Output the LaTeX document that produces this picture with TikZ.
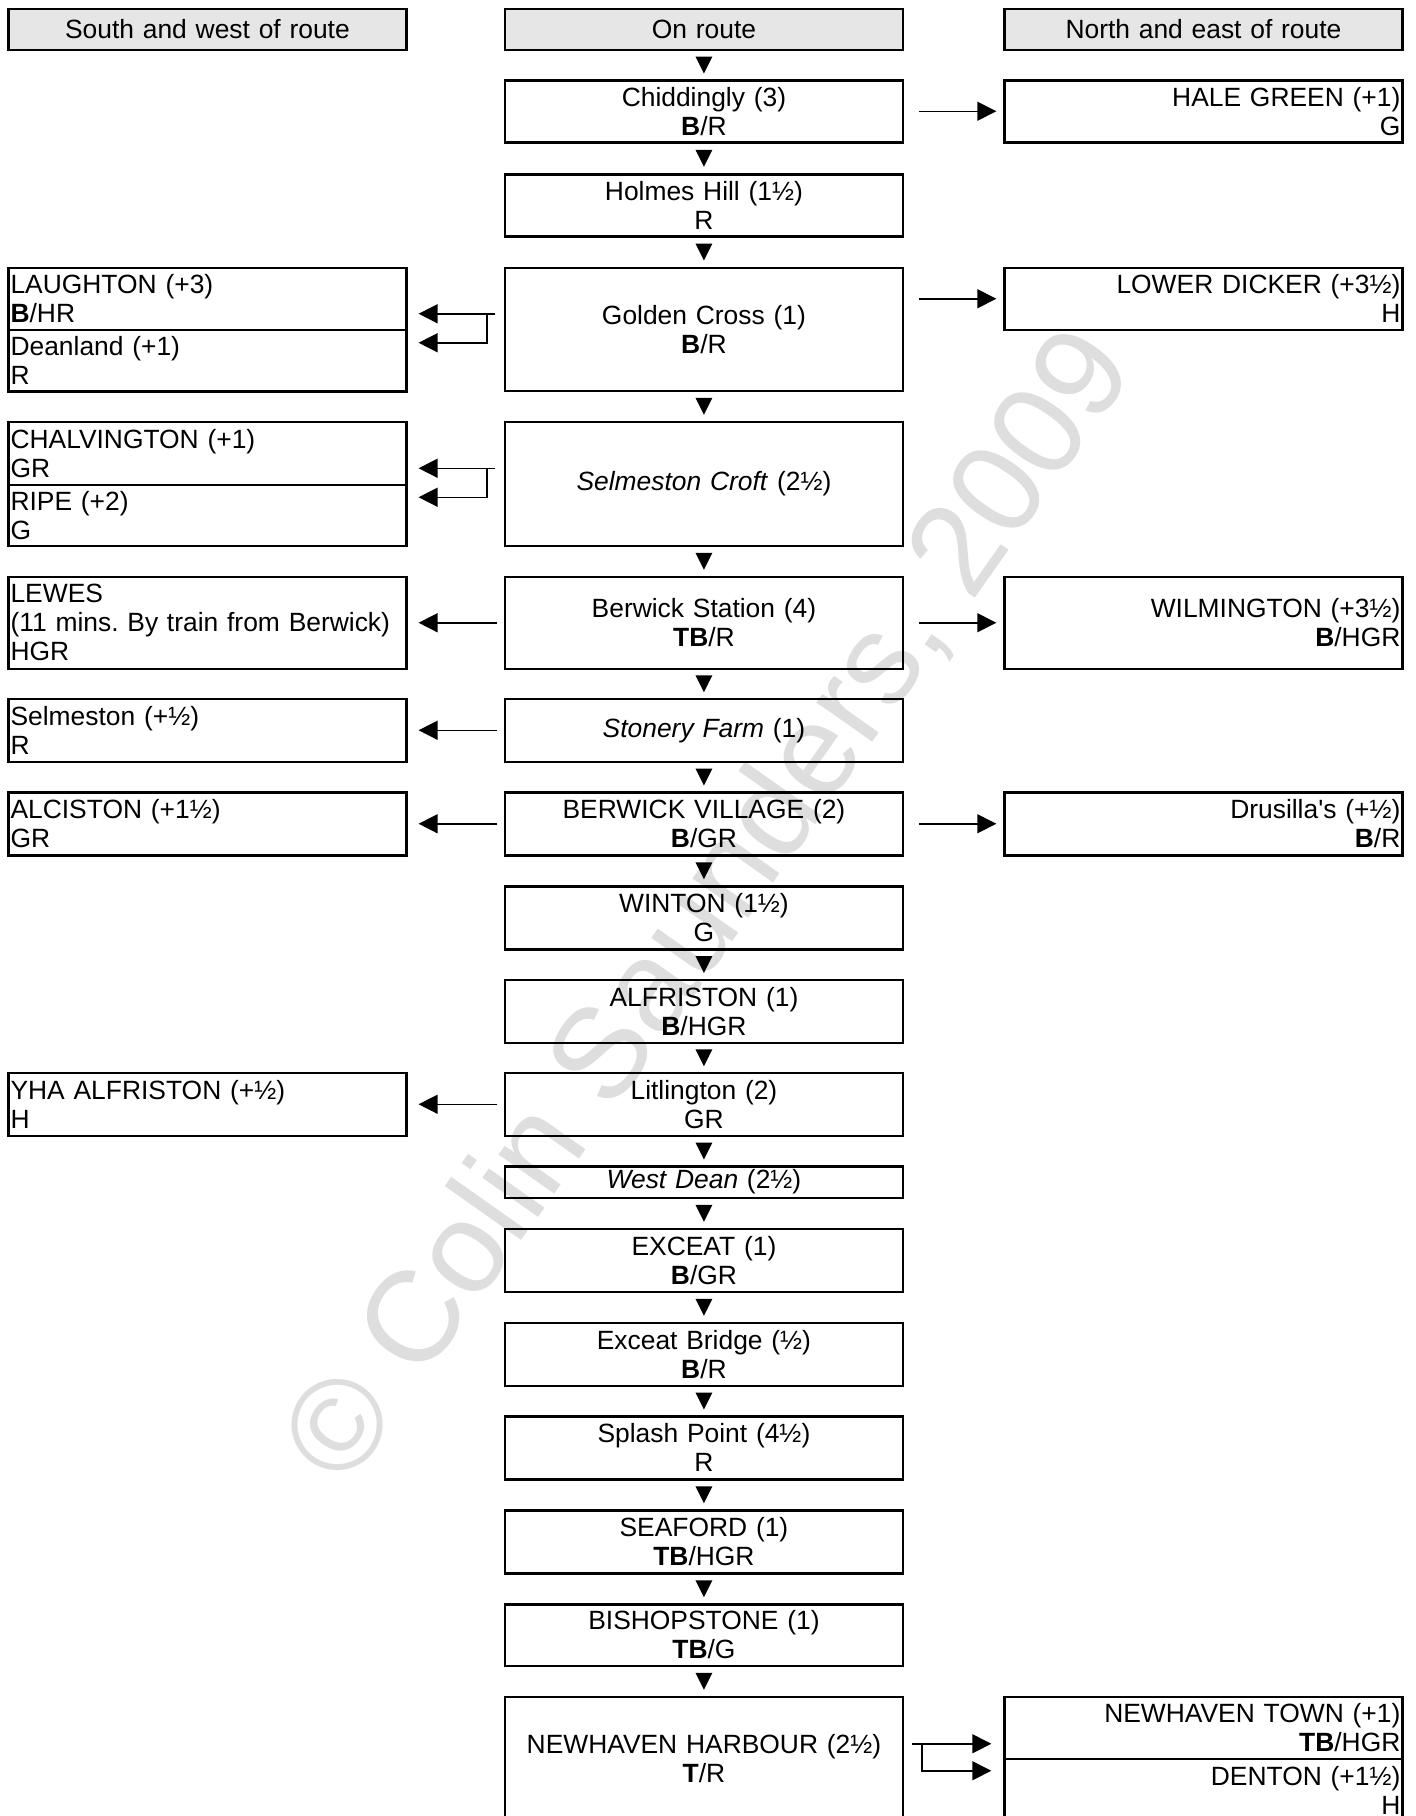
\documentclass[tikz,border=0pt]{standalone}
\usepackage{fontspec}
\setmainfont{Liberation Sans}
\usetikzlibrary{arrows.meta,calc}
\definecolor{hdrgray}{RGB}{230,230,230}
\definecolor{wmgray}{RGB}{222,222,222}
\newcommand\dtri[2]{\fill ($(#1.south)!0.5!(#2.north)$) +(-8.5,-8.5) -- +(8.5,-8.5) -- +(0,8.5) -- cycle;}
\frenchspacing
\begin{document}
\begin{tikzpicture}[x=0.5pt,y=-0.5pt,
  box/.style={draw, line width=1.25pt, minimum width=198.9pt, text width=196.9pt,
    inner xsep=1pt, inner ysep=0pt, anchor=north west,
    font=\fontsize{13.2pt}{14.5pt}\selectfont},
  mbox/.style={box, align=center},
  lbox/.style={box, align=left},
  rbox/.style={box, align=right},
  hbox/.style={box, align=center, fill=hdrgray},
  harrow/.style={line width=0.75pt, -{Triangle[length=9.5pt,width=9.5pt]}},
  ]
\useasboundingbox (0,0) rectangle (1415,1816);
\fill[white] (0,0) rectangle (1415,1816);
\clip (0,0) rectangle (1415,1816);

% watermark
\node[rotate=54.8, text=wmgray, font=\fontsize{64.5pt}{72pt}\selectfont, inner sep=0pt] (wm) at (710,907) {© Colin Saunders, 2009};

% headers
\node[hbox, minimum height=20.5pt] (hs) at (7.3,7.5) {South and west of route};
\node[hbox, minimum height=20.5pt] (ho) at (503.8,7.5) {On route};
\node[hbox, minimum height=20.5pt] (hn) at (1003.3,7.5) {North and east of route};

% on route
\node[mbox, minimum height=31pt]   (chid)   at (503.8,79)     {Chiddingly (3)\\\textbf{B}/R};
\node[mbox, minimum height=31pt]   (holmes) at (503.8,173)    {Holmes Hill (1½)\\R};
\node[mbox, minimum height=61.5pt] (golden) at (503.8,266.5)  {Golden Cross (1)\\\textbf{B}/R};
\node[mbox, minimum height=62pt]   (selc)   at (503.8,420.5)  {\textit{Selmeston Croft} (2½)};
\node[mbox, minimum height=46pt]   (bstat)  at (503.8,575.5)  {Berwick Station (4)\\\textbf{TB}/R};
\node[mbox, minimum height=31.5pt] (ston)   at (503.8,697.5)  {\textit{Stonery Farm} (1)};
\node[mbox, minimum height=31.5pt] (bvil)   at (503.8,791)    {BERWICK VILLAGE (2)\\\textbf{B}/GR};
\node[mbox, minimum height=31.5pt] (wint)   at (503.8,885)    {WINTON (1½)\\G};
\node[mbox, minimum height=31.5pt] (alfr)   at (503.8,978.5)  {ALFRISTON (1)\\\textbf{B}/HGR};
\node[mbox, minimum height=31.5pt] (litl)   at (503.8,1071.5) {Litlington (2)\\GR};
\node[mbox, minimum height=15.75pt] (wdean) at (503.8,1165)   {\textit{West Dean} (2½)};
\node[mbox, minimum height=31.5pt] (exc)    at (503.8,1227.5) {EXCEAT (1)\\\textbf{B}/GR};
\node[mbox, minimum height=31.5pt] (excb)   at (503.8,1321.5) {Exceat Bridge (½)\\\textbf{B}/R};
\node[mbox, minimum height=31.5pt] (splash) at (503.8,1415)   {Splash Point (4½)\\R};
\node[mbox, minimum height=31.5pt] (seaf)   at (503.8,1509)   {SEAFORD (1)\\\textbf{TB}/HGR};
\node[mbox, minimum height=30.75pt] (bish)  at (503.8,1603)   {BISHOPSTONE (1)\\\textbf{TB}/G};
\node[mbox, minimum height=61.5pt] (newh)   at (503.8,1695.5) {NEWHAVEN HARBOUR (2½)\\\textbf{T}/R};

% south and west
\node[lbox, minimum height=31pt]    (laugh) at (7.3,266.5)  {LAUGHTON (+3)\\\textbf{B}/HR};
\node[lbox, minimum height=30.75pt] (dean)  at (7.3,328.5)  {Deanland (+1)\\R};
\node[lbox, minimum height=31.5pt]  (chalv) at (7.3,420.5)  {CHALVINGTON (+1)\\GR};
\node[lbox, minimum height=30.5pt]  (ripe)  at (7.3,483.5)  {RIPE (+2)\\G};
\node[lbox, minimum height=46pt]    (lewes) at (7.3,575.5)  {LEWES\\(11 mins. By train from Berwick)\\HGR};
\node[lbox, minimum height=31.5pt]  (selm)  at (7.3,697.5)  {Selmeston (+½)\\R};
\node[lbox, minimum height=31.5pt]  (alc)   at (7.3,791)    {ALCISTON (+1½)\\GR};
\node[lbox, minimum height=31.5pt]  (yha)   at (7.3,1071.5) {YHA ALFRISTON (+½)\\H};

% north and east
\node[rbox, minimum height=31pt]    (hale)  at (1003.3,79)     {HALE GREEN (+1)\\G};
\node[rbox, minimum height=31pt]    (lowd)  at (1003.3,266.5)  {LOWER DICKER (+3½)\\H};
\node[rbox, minimum height=46pt]    (wilm)  at (1003.3,575.5)  {WILMINGTON (+3½)\\\textbf{B}/HGR};
\node[rbox, minimum height=31.5pt]  (drus)  at (1003.3,791)    {Drusilla\textquotesingle s (+½)\\\textbf{B}/R};
\node[rbox, minimum height=31pt]    (nht)   at (1003.3,1695.5) {NEWHAVEN TOWN (+1)\\\textbf{TB}/HGR};
\node[rbox, minimum height=31.5pt]  (dent)  at (1003.3,1757.5) {DENTON (+1½)\\H};

% down triangles
\dtri{ho}{chid}
\dtri{chid}{holmes}
\dtri{holmes}{golden}
\dtri{golden}{selc}
\dtri{selc}{bstat}
\dtri{bstat}{ston}
\dtri{ston}{bvil}
\dtri{bvil}{wint}
\dtri{wint}{alfr}
\dtri{alfr}{litl}
\dtri{litl}{wdean}
\dtri{wdean}{exc}
\dtri{exc}{excb}
\dtri{excb}{splash}
\dtri{splash}{seaf}
\dtri{seaf}{bish}
\dtri{bish}{newh}

% right arrows
\draw[harrow, shorten <=7.5pt, shorten >=3.5pt] (chid.east |- hale.west) -- (hale.west);
\draw[harrow, shorten <=7.5pt, shorten >=3.5pt] (golden.east |- lowd.west) -- (lowd.west);
\draw[harrow, shorten <=7.5pt, shorten >=3.5pt] (bstat.east |- wilm.west) -- (wilm.west);
\draw[harrow, shorten <=7.5pt, shorten >=3.5pt] (bvil.east |- drus.west) -- (drus.west);

% left arrows
\draw[harrow, shorten <=3.25pt, shorten >=5.5pt] (bstat.west) -- (lewes.east |- bstat.west);
\draw[harrow, shorten <=3.25pt, shorten >=5.5pt] (ston.west) -- (selm.east |- ston.west);
\draw[harrow, shorten <=3.25pt, shorten >=5.5pt] (bvil.west) -- (alc.east |- bvil.west);
\draw[harrow, shorten <=3.25pt, shorten >=5.5pt] (litl.west) -- (yha.east |- litl.west);

% forks to the left
\coordinate (g1) at ([yshift=7.75pt]golden.west);
\coordinate (g2) at ([yshift=-6.75pt]golden.west);
\draw[harrow, shorten <=4.25pt, shorten >=5.5pt] (g1) -- (g1 -| laugh.east);
\draw[harrow, shorten >=5.5pt] ([xshift=-8.5pt]g1) -- ([xshift=-8.5pt]g2) -- (g2 -| dean.east);

\coordinate (s1) at ([yshift=7.75pt]selc.west);
\coordinate (s2) at ([yshift=-6.75pt]selc.west);
\draw[harrow, shorten <=4.25pt, shorten >=5.5pt] (s1) -- (s1 -| chalv.east);
\draw[harrow, shorten >=5.5pt] ([xshift=-8.5pt]s1) -- ([xshift=-8.5pt]s2) -- (s2 -| ripe.east);

% fork to the right
\coordinate (n1) at ([yshift=7.25pt]newh.east);
\coordinate (n2) at ([yshift=-6.25pt]newh.east);
\draw[harrow, shorten <=4pt, shorten >=6pt] (n1) -- (n1 -| nht.west);
\draw[harrow, shorten >=6pt] ([xshift=9pt]n1) -- ([xshift=9pt]n2) -- (n2 -| dent.west);
\end{tikzpicture}
\end{document}
